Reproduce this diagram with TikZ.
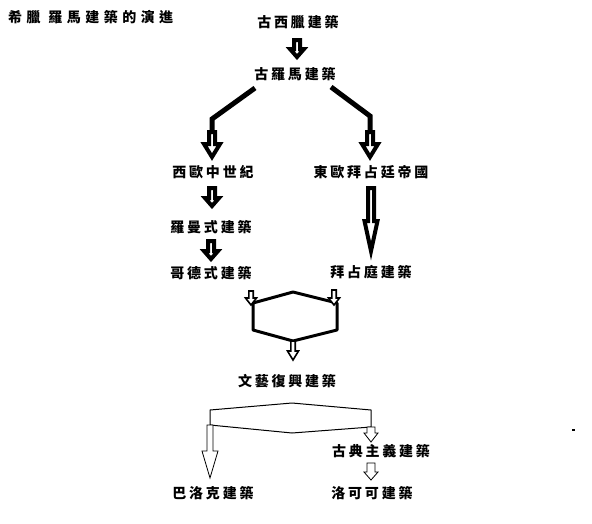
\documentclass[tikz,border=0pt]{standalone}
\usepackage{fontspec}
\newfontfamily\cjk[LetterSpace=20]{Noto Sans CJK TC}
\usetikzlibrary{calc}

% vertical block arrow: style, from, to, shaft half width, head half width, head length
\newcommand\blockarr[6]{%
  \filldraw[#1] let \p1=#2, \p2=#3 in
    (\x1-#4pt,\y1) -- (\x1+#4pt,\y1) -- (\x1+#4pt,\y2+#6pt) -- (\x1+#5pt,\y2+#6pt)
    -- (\x1,\y2) -- (\x1-#5pt,\y2+#6pt) -- (\x1-#4pt,\y2+#6pt) -- cycle;}

\begin{document}
\begin{tikzpicture}[
        x=1pt, y=-1pt,
        term/.style={font=\fontsize{14}{16}\selectfont\cjk\bfseries, inner sep=1pt},
        heavyarr/.style={draw, fill=white, line width=4pt},
        midarr/.style={draw, fill=white, line width=1.6pt},
        thinarr/.style={draw, fill=white, line width=0.8pt},
        stem/.style={line width=5pt},
        frame/.style={line width=3pt, line join=round},
        lens/.style={line width=1pt}
    ]
    \useasboundingbox (0,0) rectangle (592,523);

    \node[term, anchor=west] (title) at (7,17) {\addfontfeature{LetterSpace=32}希臘 羅馬建築的演進};
    \node[term] (greek) at (298,22) {古西臘建築};
    \node[term] (roman) at (295,74) {古羅馬建築};
    \node[term] (west) at (213,172) {西歐中世紀};
    \node[term] (east) at (371,172) {東歐拜占廷帝國};
    \node[term] (romanesque) at (211,227) {羅曼式建築};
    \node[term] (gothic) at (211,273) {哥德式建築};
    \node[term] (byz) at (371,272) {拜占庭建築};
    \node[term] (renais) at (287,381) {文藝復興建築};
    \node[term] (classic) at (381,451) {古典主義建築};
    \node[term] (baroque) at (213,493) {巴洛克建築};
    \node[term] (rococo) at (372,493) {洛可可建築};

    % split below the roman node
    \coordinate (lbend) at (212,119);
    \coordinate (lfoot) at (212,136);
    \coordinate (rbend) at (370,116);
    \coordinate (rfoot) at (370,136);
    \draw[stem] ($(roman)+(-40,14)$) -- (lbend) -- (lfoot);
    \draw[stem] ($(roman)+(36,13)$) -- (rbend) -- (rfoot);

    % join into the renaissance
    \coordinate (hexlt) at (253,303);
    \coordinate (hextop) at (293,292);
    \coordinate (hexrt) at (337,303);
    \coordinate (hexrb) at (337,330);
    \coordinate (hexbot) at (293,341);
    \coordinate (hexlb) at (253,330);
    \draw[frame] (hexlt) -- (hextop) -- (hexrt) -- (hexrb) -- (hexbot) -- (hexlb) -- cycle;

    % split below the renaissance
    \coordinate (lenslb) at (210,425);
    \coordinate (lenslt) at (210,410);
    \coordinate (lenstop) at (292,403);
    \coordinate (lensrt) at (371,410);
    \coordinate (lensrb) at (371,427);
    \coordinate (lensbot) at (292,433);
    \draw[lens] (lenslb) -- (lenslt) -- (lenstop) -- (lensrt) -- (lensrb) -- (lensbot) -- cycle;

    \blockarr{heavyarr}{($(greek)+(-1,18)$)}{($(roman)+(0,-17)$)}{3}{7}{8}
    \blockarr{heavyarr}{($(lfoot)+(0,-4)$)}{($(west)+(0,-15)$)}{3}{8}{13}
    \blockarr{heavyarr}{($(rfoot)+(0,-4)$)}{($(east)+(0,-15)$)}{3}{8}{13}
    \blockarr{heavyarr}{($(west)+(-1,16)$)}{($(romanesque)+(0,-21)$)}{3}{7}{8}
    \blockarr{heavyarr}{($(romanesque)+(0,14)$)}{($(gothic)+(0,-14)$)}{3}{7}{8}
    \blockarr{heavyarr}{($(east)+(0,16)$)}{($(byz)+(0,-21)$)}{3}{6.5}{30}
    \blockarr{midarr}{($(gothic)+(40,18)$)}{($(hexlt)+(0,2)$)}{2.2}{5.5}{7}
    \blockarr{midarr}{($(byz)+(-37,18)$)}{($(hexrt)+(0,2)$)}{2.2}{5.5}{7}
    \blockarr{midarr}{(hexbot)}{($(renais)+(0,-21)$)}{2.2}{5.5}{9}
    \blockarr{thinarr}{(lenslb)}{($(baroque)+(0,-15)$)}{3}{8}{27}
    \blockarr{thinarr}{(lensrb)}{($(classic)+(0,-9)$)}{4}{7}{9}
    \blockarr{thinarr}{($(classic)+(-10,12)$)}{($(rococo)+(0,-13)$)}{4}{7}{8}

    \fill (572,429) rectangle (575,431);
\end{tikzpicture}
\end{document}
